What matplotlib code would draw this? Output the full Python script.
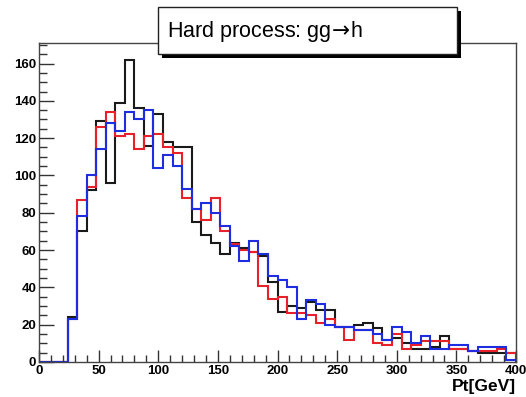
import numpy as np
import matplotlib
matplotlib.use("Agg")
import matplotlib.pyplot as plt
from matplotlib.patches import Rectangle
from matplotlib.ticker import MultipleLocator

plt.rcParams['font.family'] = ['Liberation Sans', 'DejaVu Sans']

# Pt histogram, 50 bins of 8 GeV from 0 to 400
bin_edges = np.arange(0, 401, 8)

counts_black = [0, 0, 0, 24, 70, 92, 129, 96, 139, 162,
                136, 116, 133, 118, 115, 115, 75, 68, 64, 58,
                64, 61, 59, 57, 43, 27, 30, 29, 32, 28,
                28, 19, 19, 20, 21, 18, 12, 13, 10, 7,
                7, 8, 14, 7, 7, 6, 5, 5, 5, 5]
counts_red = [0, 0, 0, 23, 87, 94, 126, 134, 121, 122,
              114, 121, 122, 115, 112, 88, 82, 76, 88, 70,
              63, 60, 59, 41, 34, 35, 26, 26, 25, 21,
              23, 19, 12, 17, 17, 10, 9, 15, 7, 9,
              11, 11, 11, 7, 7, 6, 6, 6, 7, 5]
counts_blue = [0, 0, 0, 23, 78, 100, 114, 128, 124, 134,
               130, 135, 104, 111, 105, 93, 82, 85, 80, 73,
               62, 54, 65, 58, 46, 44, 40, 23, 33, 31,
               20, 19, 19, 17, 17, 15, 12, 19, 16, 10,
               14, 7, 7, 9, 9, 6, 8, 8, 8, 1]

title_text = "Hard process: gg$\\!\\rightarrow\\!$h"
x_label = "Pt[GeV]"

W, H = 526, 397
fig = plt.figure(figsize=(W / 100, H / 100), dpi=100)
ax = fig.add_axes([39 / W, (H - 362) / H, (516 - 39) / W, (362 - 43) / H])

for counts, color in [(counts_black, '#1a1a1a'), (counts_red, '#e8202a'), (counts_blue, '#1f2de0')]:
    ax.stairs(counts, bin_edges, baseline=0, fill=False, color=color, linewidth=1.5)

ax.set_xlim(0, 400)
ax.set_ylim(0, 171)

ax.xaxis.set_major_locator(MultipleLocator(50))
ax.xaxis.set_minor_locator(MultipleLocator(10))
ax.yaxis.set_major_locator(MultipleLocator(20))
ax.yaxis.set_minor_locator(MultipleLocator(5))
ax.tick_params(which='both', direction='in', top=False, right=False, color='#333333')
ax.tick_params(axis='y', which='major', length=11, width=1)
ax.tick_params(axis='y', which='minor', length=6, width=1)
ax.tick_params(axis='x', which='major', length=9, width=1)
ax.tick_params(axis='x', which='minor', length=5, width=1)
ax.tick_params(axis='y', labelsize=9.5, pad=2)
ax.tick_params(axis='x', labelsize=9.5, pad=2)
for lbl in ax.get_xticklabels() + ax.get_yticklabels():
    lbl.set_fontweight('bold')
for s in ax.spines.values():
    s.set_color('#444444')
    s.set_linewidth(1)

fig.text(516 / W, (H - 386) / H, x_label, ha='right', va='center',
         fontsize=12.5, fontweight='bold')

# title pave with drop shadow
bx0, by0, bx1, by1 = 158, 7, 457, 54
shadow = Rectangle(((bx0 + 4) / W, (H - by1 - 4) / H), (bx1 - bx0) / W, (by1 - by0) / H,
                   transform=fig.transFigure, facecolor='black', edgecolor='none', zorder=10)
pave = Rectangle((bx0 / W, (H - by1) / H), (bx1 - bx0) / W, (by1 - by0) / H,
                 transform=fig.transFigure, facecolor='white', edgecolor='#222222',
                 linewidth=1, zorder=11)
fig.add_artist(shadow)
fig.add_artist(pave)
fig.text(167 / W, (H - 31) / H, title_text, ha='left', va='center', fontsize=15.5,
         zorder=12)

fig.savefig('out.png', dpi=100)
